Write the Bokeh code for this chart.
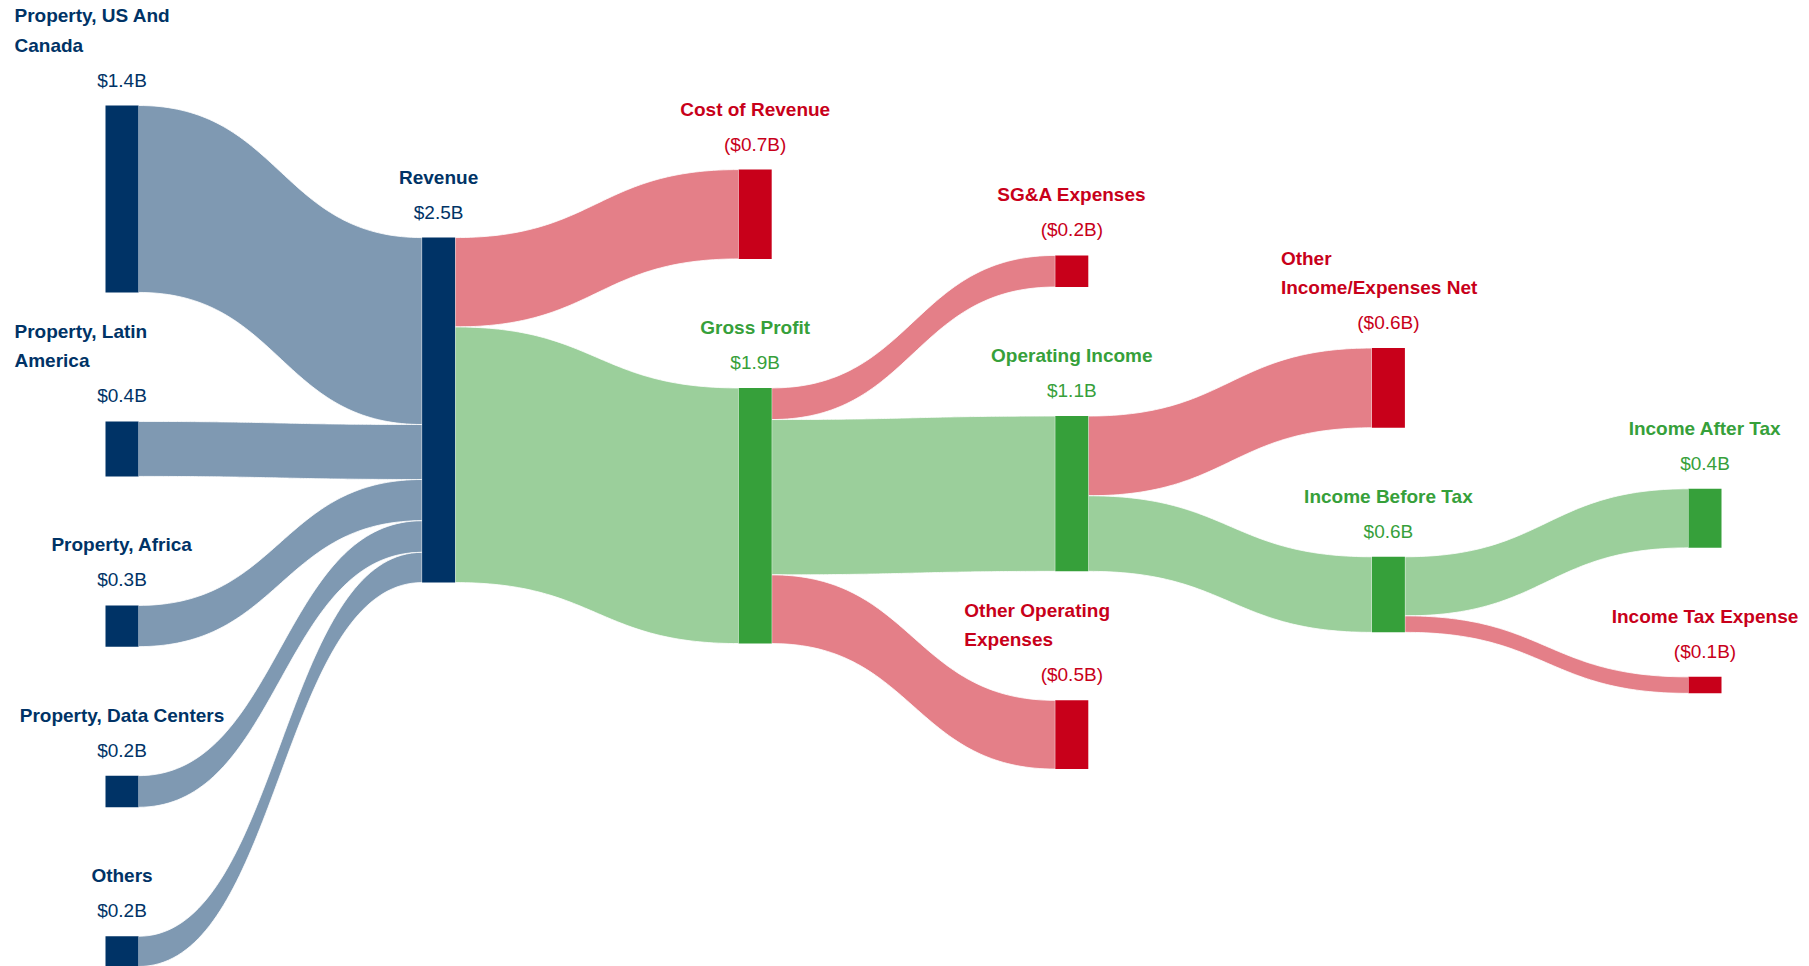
import numpy as np
from bokeh.plotting import figure
from bokeh.models import Range1d, ColumnDataSource
from bokeh.embed import file_html
from bokeh.resources import INLINE
from bokeh.core.properties import value

# ---------------- data ----------------
node_labels = [
    "Property, US And\nCanada",
    "Property, Latin\nAmerica",
    "Property, Africa",
    "Property, Data Centers",
    "Others",
    "Revenue",
    "Cost of Revenue",
    "Gross Profit",
    "SG&A Expenses",
    "Operating Income",
    "Other Operating\nExpenses",
    "Other\nIncome/Expenses Net",
    "Income Before Tax",
    "Income After Tax",
    "Income Tax Expense",
]
node_kinds = [
    "revenue", "revenue", "revenue", "revenue", "revenue", "revenue",
    "expense", "profit", "expense", "profit", "expense",
    "expense", "profit", "profit", "expense",
]
link_sources = [0, 1, 2, 3, 4, 5, 5, 7, 7, 7, 9, 9, 12, 12]
link_targets = [5, 5, 5, 5, 5, 6, 7, 8, 9, 10, 11, 12, 13, 14]
link_values = [1.36, 0.40, 0.30, 0.23, 0.22, 0.65, 1.86, 0.23, 1.13, 0.50, 0.58, 0.55, 0.43, 0.12]

# ---------------- styles / layout params ----------------
NODE_COLORS = {"revenue": "#003366", "expense": "#C8001A", "profit": "#36A03A"}
LINK_COLORS = {"revenue": "#7F99B2", "expense": "#E47F88", "profit": "#9BCF9B"}
FONT = "Liberation Sans"
FONT_SIZE = "19px"
X_LEFT, X_RIGHT, NODE_W = 105.0, 1721.0, 33.0
TOP, BOTTOM, PAD = 105.0, 966.0, 129.0
CHILD_SHIFT = -3.5
LABEL_MAX_W = 215.0

n = len(node_labels)
L = len(link_values)

# node values
vin = [0.0] * n
vout = [0.0] * n
for s, t, v in zip(link_sources, link_targets, link_values):
    vout[s] += v
    vin[t] += v
node_val = [max(a, b) for a, b in zip(vin, vout)]

# depth (column)
depth = [0] * n
for _ in range(n):
    for s, t in zip(link_sources, link_targets):
        depth[t] = max(depth[t], depth[s] + 1)
ncols = max(depth) + 1
cols = {}
for i in range(n):
    cols.setdefault(depth[i], []).append(i)

dx = (X_RIGHT - NODE_W - X_LEFT) / (ncols - 1)
x0 = [X_LEFT + depth[i] * dx for i in range(n)]
x1 = [xx + NODE_W for xx in x0]

y0 = [0.0] * n
y1 = [0.0] * n
col0 = cols[0]
k = (BOTTOM - TOP - (len(col0) - 1) * PAD) / sum(node_val[i] for i in col0)
y = TOP
for i in col0:
    y0[i] = y
    y1[i] = y + node_val[i] * k
    y = y1[i] + PAD

for c in range(1, ncols):
    groups = {}
    for i in cols[c]:
        srcs = tuple(sorted(set(link_sources[j] for j in range(L) if link_targets[j] == i)))
        groups.setdefault(srcs, []).append(i)
    for srcs, members in groups.items():
        if len(srcs) == 1:
            pnode = srcs[0]
            center = (y0[pnode] + y1[pnode]) / 2 + CHILD_SHIFT
        else:
            num = 0.0
            den = 0.0
            for j in range(L):
                if link_targets[j] in members:
                    s = link_sources[j]
                    num += (y0[s] + y1[s]) / 2 * link_values[j]
                    den += link_values[j]
            center = num / den
        total = sum(node_val[i] * k for i in members) + (len(members) - 1) * PAD
        y = center - total / 2
        for i in members:
            y0[i] = y
            y1[i] = y + node_val[i] * k
            y = y1[i] + PAD

# link positions
ls0 = [0.0] * L
lt0 = [0.0] * L
for i in range(n):
    outs = sorted([j for j in range(L) if link_sources[j] == i], key=lambda j: y0[link_targets[j]])
    yy = y0[i]
    for j in outs:
        ls0[j] = yy
        yy += link_values[j] * k
    ins = sorted([j for j in range(L) if link_targets[j] == i], key=lambda j: y0[link_sources[j]])
    yy = y0[i]
    for j in ins:
        lt0[j] = yy
        yy += link_values[j] * k

tt = np.linspace(0, 1, 80)


def bez(xa, ya, xb, yb):
    xm = (xa + xb) / 2
    bx = (1 - tt) ** 3 * xa + 3 * (1 - tt) ** 2 * tt * xm + 3 * (1 - tt) * tt ** 2 * xm + tt ** 3 * xb
    by = (1 - tt) ** 3 * ya + 3 * (1 - tt) ** 2 * tt * ya + 3 * (1 - tt) * tt ** 2 * yb + tt ** 3 * yb
    return bx, by


lxs, lys, lcol = [], [], []
for j in range(L):
    s, t = link_sources[j], link_targets[j]
    w = link_values[j] * k
    xa, xb = x1[s], x0[t]
    tx, ty = bez(xa, ls0[j], xb, lt0[j])
    bx, by = bez(xa, ls0[j] + w, xb, lt0[j] + w)
    lxs.append(list(tx) + list(bx[::-1]))
    lys.append(list(ty) + list(by[::-1]))
    lcol.append(LINK_COLORS[node_kinds[t]])

# ---------------- figure ----------------
W, H = 1809, 966
p = figure(width=W, height=H, output_backend="svg", toolbar_location=None,
           x_range=Range1d(0, W), y_range=Range1d(H, 0), min_border=0)
p.axis.visible = False
p.grid.visible = False
p.outline_line_color = None
p.background_fill_color = "white"

p.patches(xs=lxs, ys=lys, fill_color=lcol, line_color="white", line_width=0.8)

p.quad(left=x0, right=x1, top=y0, bottom=y1,
       fill_color=[NODE_COLORS[kd] for kd in node_kinds], line_color=None)

# labels
nx, ny, nt, nc, na = [], [], [], [], []
vx, vy, vt, vc = [], [], [], []
for i in range(n):
    cx = (x0[i] + x1[i]) / 2
    col = NODE_COLORS[node_kinds[i]]
    val_y = y0[i] - 25.5
    v = node_val[i]
    vt.append(f"(${v:.1f}B)" if node_kinds[i] == "expense" else f"${v:.1f}B")
    vx.append(cx)
    vy.append(val_y)
    vc.append(col)
    lines = node_labels[i].split("\n")
    m = len(lines)
    for jj, line in enumerate(lines):
        ny.append(val_y - 35 - (m - 1 - jj) * 29.5)
        nt.append(line)
        nc.append(col)
        if m > 1:
            nx.append(cx - LABEL_MAX_W / 2)
            na.append("left")
        else:
            nx.append(cx)
            na.append("center")

p.text(x="x", y="y", text="text", text_color="c", text_align="a",
       source=ColumnDataSource(dict(x=nx, y=ny, text=nt, c=nc, a=na)),
       text_font=value(FONT), text_font_size=FONT_SIZE, text_font_style="bold",
       text_baseline="middle")
p.text(x=vx, y=vy, text=vt, text_color=vc, text_align="center",
       text_font=value(FONT), text_font_size=FONT_SIZE, text_baseline="middle")

open("out.html", "w").write(file_html(p, INLINE))
